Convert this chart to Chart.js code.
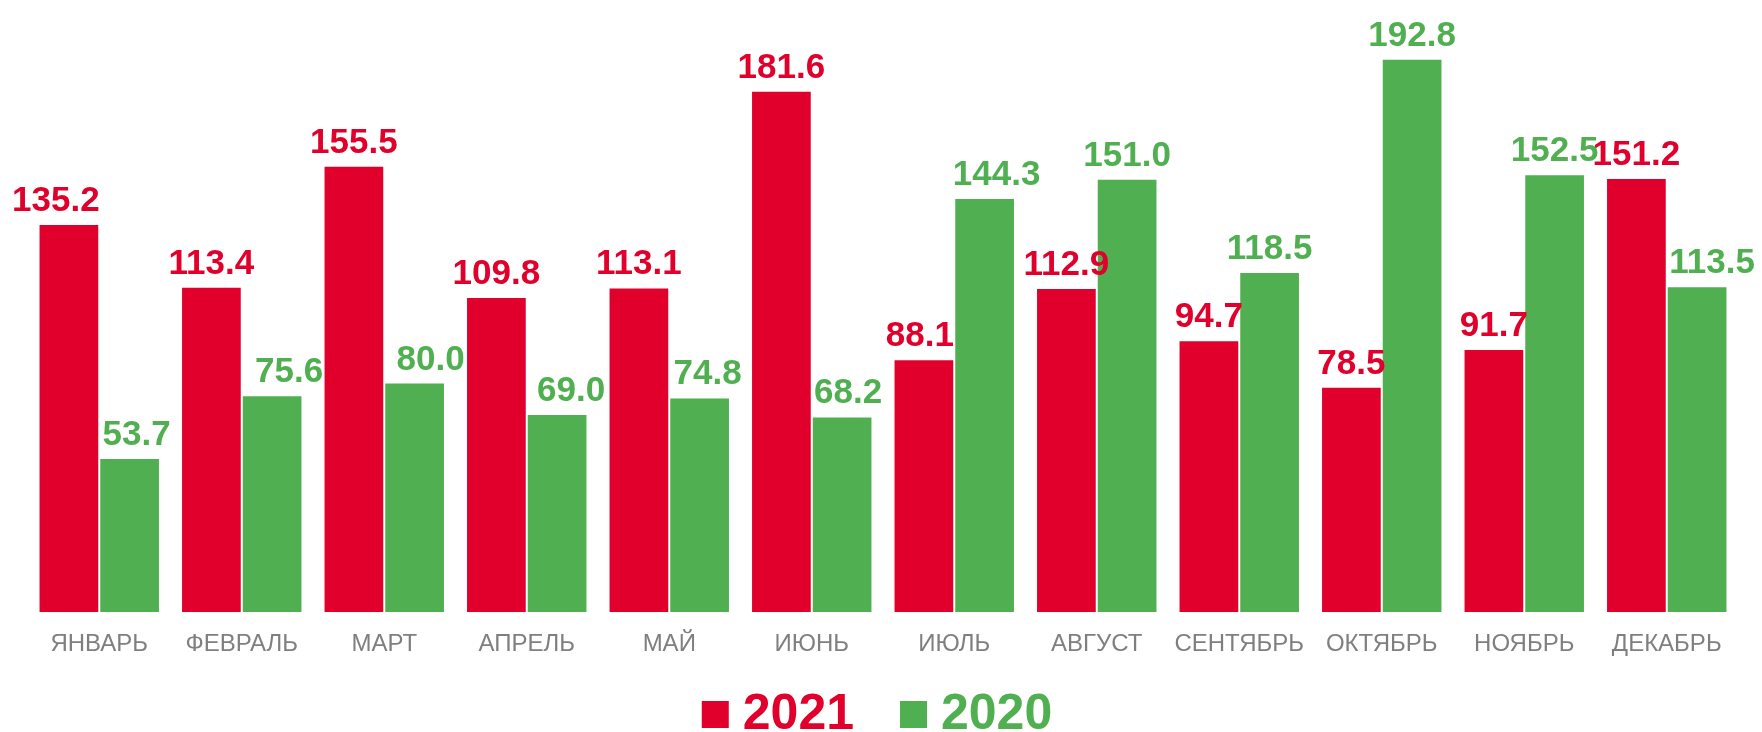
<!DOCTYPE html>
<html>
<head>
<meta charset="utf-8">
<script src="https://cdn.jsdelivr.net/npm/chart.js@4/dist/chart.umd.min.js"></script>
<style>
  html, body { margin: 0; padding: 0; background: #fff; }
  #wrap { width: 1762px; height: 732px; }
</style>
</head>
<body>
<div id="wrap"><canvas id="myChart" width="1762" height="732"></canvas></div>
<script>
var months = ['ЯНВАРЬ', 'ФЕВРАЛЬ', 'МАРТ', 'АПРЕЛЬ', 'МАЙ', 'ИЮНЬ', 'ИЮЛЬ', 'АВГУСТ', 'СЕНТЯБРЬ', 'ОКТЯБРЬ', 'НОЯБРЬ', 'ДЕКАБРЬ'];
var values2021 = [135.2, 113.4, 155.5, 109.8, 113.1, 181.6, 88.1, 112.9, 94.7, 78.5, 91.7, 151.2];
var values2020 = [53.7, 75.6, 80.0, 69.0, 74.8, 68.2, 144.3, 151.0, 118.5, 192.8, 152.5, 113.5];

// label nudges (px) so the numbers don't run into the neighbour bar
var shift2021 = [-13, 0, 0, 0, 0, 0, -4, 0, 0, 0, 0, 0];
var shift2020 = [7, 17, 16, 14, 8, 6, 12, 0, 0, 0, 0, 15];

var colors = {
  red: 'rgb(224, 0, 43)',
  green: 'rgb(80, 175, 80)'
};

const FONT = '"Liberation Sans", Arial, sans-serif';

// values on top of the bars
const valueLabels = {
  id: 'valueLabels',
  afterDatasetsDraw(chart) {
    const ctx = chart.ctx;
    const shifts = [shift2021, shift2020];
    ctx.save();
    ctx.font = 'bold 35px ' + FONT;
    ctx.textAlign = 'center';
    ctx.textBaseline = 'alphabetic';
    chart.data.datasets.forEach((ds, di) => {
      chart.getDatasetMeta(di).data.forEach((bar, i) => {
        ctx.fillStyle = ds.backgroundColor;
        ctx.fillText(ds.data[i].toFixed(1), bar.x + shifts[di][i], bar.y - 13);
      });
    });
    ctx.restore();
  }
};

// big legend at the bottom
const bigLegend = {
  id: 'bigLegend',
  afterDraw(chart) {
    const ctx = chart.ctx;
    const box = 27, gap = 14, spacing = 46, baseline = 729;
    ctx.save();
    ctx.font = 'bold 50px ' + FONT;
    ctx.textBaseline = 'alphabetic';
    ctx.textAlign = 'left';
    const items = chart.data.datasets.map(ds => ({ text: ds.label, color: ds.backgroundColor, w: ctx.measureText(ds.label).width }));
    let total = 0;
    items.forEach((it, i) => { total += box + gap + it.w + (i ? spacing : 0); });
    let x = chart.width / 2 - total / 2 - 4;
    items.forEach((it, i) => {
      if (i) x += spacing;
      ctx.fillStyle = it.color;
      ctx.fillRect(x, 701, box, box);
      x += box + gap;
      ctx.fillText(it.text, x, baseline);
      x += it.w;
    });
    ctx.restore();
  }
};

const ctx = document.getElementById('myChart');

const chart = new Chart(ctx, {
  type: 'bar',
  data: {
    labels: months,
    datasets: [
      {
        label: '2021',
        data: values2021,
        backgroundColor: colors.red,
        borderColor: 'rgba(255,255,255,0.6)',
        borderWidth: 1
      },
      {
        label: '2020',
        data: values2020,
        backgroundColor: colors.green,
        borderColor: 'rgba(255,255,255,0.6)',
        borderWidth: 1
      }
    ]
  },
  options: {
    responsive: false,
    animation: false,
    layout: {
      padding: { top: 38, left: 28, right: 24, bottom: 55 }
    },
    datasets: {
      bar: {
        categoryPercentage: 0.852,
        barPercentage: 1
      }
    },
    plugins: {
      legend: { display: false },
      tooltip: { enabled: false }
    },
    scales: {
      x: {
        grid: { display: false, drawTicks: false },
        border: { display: false },
        ticks: {
          color: '#7f7f7f',
          padding: 18,
          font: { family: FONT, size: 24 }
        }
      },
      y: {
        display: false,
        min: 0,
        max: 200
      }
    }
  },
  plugins: [valueLabels, bigLegend]
});
</script>
</body>
</html>
